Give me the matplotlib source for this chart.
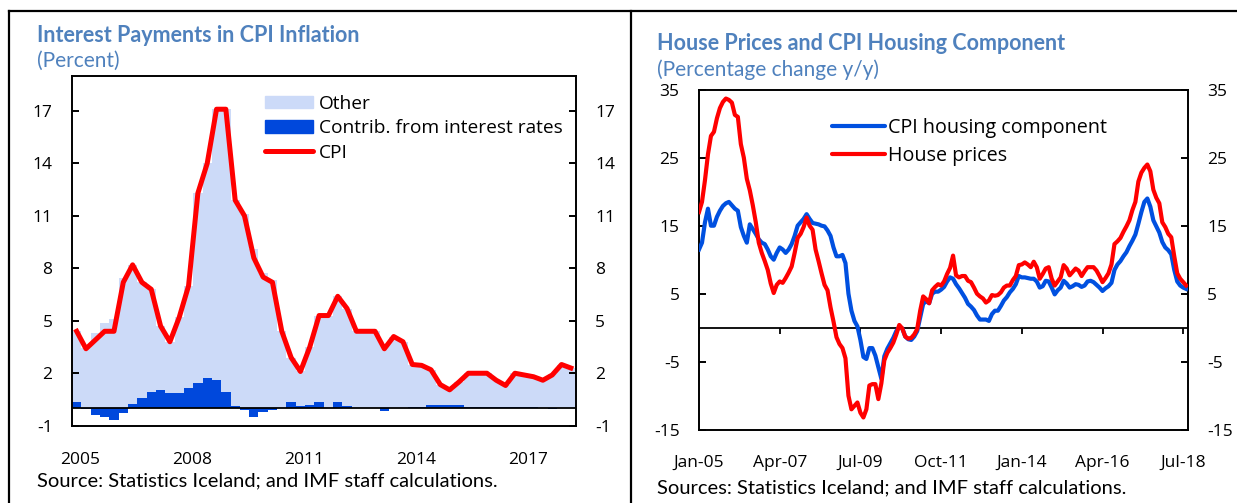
import matplotlib
matplotlib.use("Agg")
import matplotlib.pyplot as plt
from matplotlib.lines import Line2D
from matplotlib.patches import Patch
import numpy as np

# ---------------- Left chart data: quarterly 2005Q1 - 2018Q2 ----------------
quarters = [f"{y}Q{q}" for y in range(2005, 2019) for q in range(1, 5)][:54]
cpi = [4.4, 3.4, 3.9, 4.4, 4.4, 7.2, 8.2, 7.2, 6.8, 4.7, 3.8, 5.2,
       7.0, 12.3, 14.0, 17.1, 17.1, 11.9, 11.0, 8.6, 7.5, 7.2, 4.4, 2.9,
       2.1, 3.5, 5.3, 5.3, 6.4, 5.7, 4.4, 4.4, 4.4, 3.4, 4.1, 3.8,
       2.5, 2.45, 2.2, 1.35, 1.05, 1.5, 2.0, 2.0, 2.0, 1.6, 1.3, 2.0,
       1.9, 1.8, 1.6, 1.9, 2.5, 2.3]
contrib = [0.35, -0.05, -0.38, -0.48, -0.7, -0.25, 0.25, 0.6, 0.95, 1.05, 0.85, 0.85,
           1.15, 1.45, 1.7, 1.6, 0.95, 0.1, -0.1, -0.5, -0.22, -0.13, 0.0, 0.35,
           0.1, 0.2, 0.35, 0.0, 0.35, 0.1, 0.02, 0.02, 0.0, -0.15, 0.03, 0.03,
           0.08, 0.08, 0.2, 0.2, 0.2, 0.2, 0.05, 0.05, 0.05, 0.05, 0.05, 0.05,
           0.05, 0.05, 0.0, -0.05, 0.0, 0.0]
year_labels = ["2005", "2008", "2011", "2014", "2017"]
year_label_quarters = ["2005Q1", "2008Q1", "2011Q1", "2014Q1", "2017Q1"]
left_yticks = [-1, 2, 5, 8, 11, 14, 17]

# ---------------- Right chart data: monthly Jan-05 - Aug-18 ----------------
house_prices = [
    17.0, 18.5, 21.7, 25.5, 28.2, 28.8, 30.8, 32.3, 33.2, 33.7, 33.5, 33.1,
    31.3, 31.0, 27.0, 25.0, 21.9, 20.2, 18.0, 15.5, 12.5, 11.0, 9.8, 8.5,
    6.5, 5.1, 6.3, 6.8, 6.6, 7.3, 8.1, 9.0, 11.0, 13.2, 13.8, 14.8,
    16.2, 15.0, 14.4, 11.5, 9.8, 8.0, 6.3, 5.5, 3.0, 0.9, -1.4, -2.4,
    -3.0, -4.5, -10.0, -12.0, -11.5, -11.0, -12.5, -13.2, -12.0, -8.5, -8.3, -8.3,
    -10.5, -8.2, -4.8, -3.7, -3.0, -2.2, -1.0, 0.4, -0.1, -1.3, -1.6, -1.5,
    -1.0, -0.2, 2.5, 4.6, 4.2, 3.6, 5.5, 6.0, 6.4, 6.2, 6.8, 7.9,
    8.8, 10.6, 7.7, 7.4, 7.6, 7.6, 6.9, 6.7, 5.9, 5.0, 4.6, 4.3,
    3.7, 4.0, 4.8, 4.7, 4.8, 5.2, 5.9, 6.2, 6.2, 7.0, 7.6, 9.2,
    9.3, 9.6, 9.3, 8.9, 9.7, 8.9, 7.2, 7.9, 8.7, 8.9, 7.2, 6.2,
    6.8, 7.4, 9.2, 8.7, 7.7, 8.2, 8.7, 8.4, 7.6, 8.3, 8.9, 8.9,
    8.9, 8.4, 7.6, 6.7, 7.3, 8.0, 9.3, 12.3, 12.7, 13.2, 14.1, 14.9,
    15.8, 17.3, 18.5, 21.5, 22.8, 23.5, 24.0, 23.0, 20.3, 19.1, 18.3, 15.5,
    14.8, 13.8, 13.3, 10.5, 8.0, 7.2, 6.7, 6.2]
cpi_housing = [
    11.5, 12.5, 15.5, 17.5, 15.0, 15.0, 16.3, 17.2, 17.9, 18.3, 18.5, 18.0,
    17.5, 17.2, 14.8, 13.5, 12.5, 15.2, 14.5, 13.8, 13.0, 12.5, 12.3, 11.5,
    10.5, 10.0, 11.0, 11.8, 11.5, 11.0, 11.5, 12.3, 13.5, 15.0, 15.5, 16.0,
    16.7, 16.0, 15.4, 15.3, 15.2, 15.0, 14.9, 14.3, 13.5, 11.8, 10.5, 10.5,
    10.7, 9.5, 5.0, 2.5, 1.0, 0.2, -1.8, -4.3, -4.6, -3.0, -3.0, -4.1,
    -5.8, -7.5, -4.2, -3.1, -2.3, -1.5, -0.5, 0.1, -0.1, -1.3, -1.7, -1.8,
    -1.3, -0.5, 1.5, 3.5, 3.9, 3.6, 5.0, 5.3, 5.3, 5.6, 6.0, 6.8,
    7.4, 7.2, 6.4, 5.8, 5.1, 4.4, 3.5, 3.1, 2.6, 1.8, 1.2, 1.2,
    1.2, 1.0, 2.0, 2.5, 2.5, 3.2, 4.0, 4.5, 5.2, 5.7, 6.4, 7.6,
    7.4, 7.4, 7.3, 7.2, 7.2, 6.8, 5.9, 6.1, 6.9, 6.8, 5.9, 4.9,
    5.5, 5.9, 6.9, 6.5, 5.9, 6.1, 6.4, 6.3, 6.0, 6.2, 6.8, 6.9,
    6.7, 6.3, 5.9, 5.4, 5.8, 6.1, 6.6, 8.5, 9.3, 9.8, 10.5, 11.1,
    12.0, 12.8, 13.7, 15.3, 17.0, 18.5, 19.0, 17.8, 15.8, 14.9, 14.0, 12.6,
    11.8, 11.4, 10.8, 8.5, 6.8, 6.2, 5.9, 5.7]
month_labels = ["Jan-05", "Apr-07", "Jul-09", "Oct-11", "Jan-14", "Apr-16", "Jul-18"]
month_label_index = [0, 27, 54, 81, 108, 135, 162]
right_yticks = [-15, -5, 5, 15, 25, 35]

# ---------------- Styling ----------------
TITLE_C = "#4F81BD"
LIGHT = "#CCDAF8"
DARK = "#0048DC"
RED = "#FF0000"
BLUE = "#0050E0"
TXT = "Open Sans"
TFONT = "Lato"

plt.rcParams["font.family"] = [TXT, "DejaVu Sans"]
plt.rcParams["axes.unicode_minus"] = False

W, H = 1237, 503
fig = plt.figure(figsize=(W / 100, H / 100), dpi=100)


def fx(px):
    return px / W


def fy(py):
    return 1 - py / H


# Panel frame lines
for (x0, y0, x1, y1) in [(9, 11, 1237, 11), (9, 11, 9, 503), (631, 11, 631, 503)]:
    fig.add_artist(Line2D([fx(x0), fx(x1)], [fy(y0), fy(y1)], transform=fig.transFigure,
                          color="black", lw=1.6))

# ---------------- Left chart ----------------
axL = fig.add_axes([fx(72), fy(425.7), fx(575.5) - fx(72), fy(76) - fy(425.7)])
x = np.arange(len(quarters))
cpi_a = np.array(cpi)
con_a = np.array(contrib)
other = cpi_a - con_a
other_bottom = np.maximum(con_a, 0)
axL.bar(x, other, bottom=other_bottom, width=1.0, color=LIGHT, linewidth=0, zorder=1)
axL.bar(x, con_a, width=1.0, color=DARK, linewidth=0, zorder=2)
axL.axhline(0, color="black", lw=1.3, zorder=3)
axL.plot(x, cpi_a, color=RED, lw=3.6, zorder=4, solid_joinstyle="round")
axL.set_xlim(-0.5, len(quarters) - 0.5)
axL.set_ylim(-1, 19)
axL.set_yticks(left_yticks)
xt = [quarters.index(q) + 0.4 for q in year_label_quarters]
axL.set_xticks(xt)
axL.set_xticklabels(year_labels)
axL.tick_params(axis="x", length=0, pad=19, labelsize=12.5)
axL.tick_params(axis="y", direction="in", length=5, width=1.4, labelsize=12.5,
                left=True, right=True, labelleft=True, labelright=True, pad=14)
for s in axL.spines.values():
    s.set_linewidth(1.4)

handlesL = [Patch(color=LIGHT, label="Other"),
            Patch(color=DARK, label="Contrib. from interest rates"),
            Line2D([0], [0], color=RED, lw=3.6, solid_capstyle="round", label="CPI")]
fig.legend(handles=handlesL, loc="upper left", bbox_to_anchor=(fx(265), fy(95)),
           frameon=False, fontsize=13.8, handlelength=2.5, handleheight=0.6,
           handletextpad=0.3, labelspacing=0.33, borderpad=0, borderaxespad=0)

fig.text(fx(37), fy(36), "Interest Payments in CPI Inflation", family=[TFONT, "DejaVu Sans"],
         weight="bold", color=TITLE_C, fontsize=15.5, va="center", ha="left")
fig.text(fx(37), fy(61), "(Percent)", family=[TFONT, "DejaVu Sans"], color=TITLE_C,
         fontsize=15, va="center", ha="left")
fig.text(fx(37), fy(481), "Source: Statistics Iceland; and IMF staff calculations.",
         family=[TFONT, "DejaVu Sans"], color="black", fontsize=14.5, va="center", ha="left")

# ---------------- Right chart ----------------
axR = fig.add_axes([fx(699), fy(429.7), fx(1187.7) - fx(699), fy(89.7) - fy(429.7)])
m = np.arange(len(house_prices))
axR.axhline(0, color="black", lw=1.3, zorder=1)
axR.vlines(month_label_index, -0.9, 0, color="black", lw=1.3, zorder=1)
axR.plot(m, cpi_housing, color=BLUE, lw=3.0, zorder=3, solid_joinstyle="round",
         label="CPI housing component")
axR.plot(m, house_prices, color=RED, lw=3.0, zorder=4, solid_joinstyle="round",
         label="House prices")
axR.set_xlim(0, len(house_prices) - 0.5)
axR.set_ylim(-15, 35)
axR.set_yticks(right_yticks)
axR.set_xticks(month_label_index)
axR.set_xticklabels(month_labels)
axR.tick_params(axis="x", length=0, pad=18, labelsize=12.5)
axR.tick_params(axis="y", direction="in", length=5, width=1.4, labelsize=12.5,
                left=True, right=True, labelleft=True, labelright=True, pad=14)
for s in axR.spines.values():
    s.set_linewidth(1.4)

handlesR = [Line2D([0], [0], color=BLUE, lw=3.0, solid_capstyle="round", label="CPI housing component"),
            Line2D([0], [0], color=RED, lw=3.0, solid_capstyle="round", label="House prices")]
fig.legend(handles=handlesR, loc="upper left", bbox_to_anchor=(fx(832), fy(118)),
           frameon=False, fontsize=14.2, handlelength=2.7, handletextpad=0.15,
           labelspacing=0.42, borderpad=0, borderaxespad=0)

fig.text(fx(657), fy(43), "House Prices and CPI Housing Component", family=[TFONT, "DejaVu Sans"],
         weight="bold", color=TITLE_C, fontsize=15.5, va="center", ha="left")
fig.text(fx(657), fy(70), "(Percentage change y/y)", family=[TFONT, "DejaVu Sans"], color=TITLE_C,
         fontsize=15, va="center", ha="left")
fig.text(fx(657), fy(488), "Sources: Statistics Iceland; and IMF staff calculations.",
         family=[TFONT, "DejaVu Sans"], color="black", fontsize=14.5, va="center", ha="left")

fig.savefig("out.png", dpi=100)
